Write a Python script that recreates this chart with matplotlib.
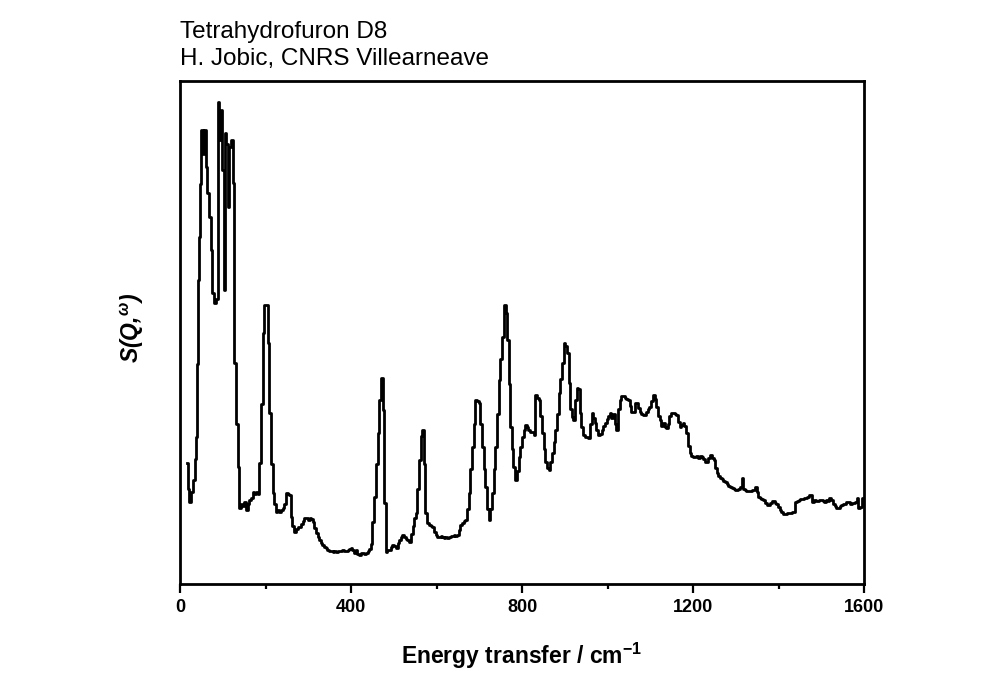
import numpy as np
import matplotlib
matplotlib.use("Agg")
import matplotlib.pyplot as plt
from matplotlib.ticker import MultipleLocator

# energy transfer (cm-1) and S(Q,w) (arbitrary units)
energy = [16, 20, 24, 28, 32, 36, 39, 41, 43, 46, 49, 51, 55, 59, 62, 66, 70, 74, 78, 82,
          86, 90, 94, 97, 101, 104, 107, 110, 113, 117, 121, 125, 129, 133, 137, 140, 144, 148, 152, 156,
          160, 164, 168, 172, 176, 180, 184, 187, 191, 195, 199, 203, 207, 211, 215, 219, 223, 226, 230, 234,
          238, 242, 246, 250, 254, 257, 261, 265, 269, 273, 277, 281, 285, 289, 293, 297, 301, 305, 309, 312,
          316, 320, 324, 328, 331, 335, 339, 343, 347, 351, 355, 359, 363, 367, 371, 374, 378, 382, 386, 390,
          394, 398, 402, 405, 409, 413, 417, 421, 425, 429, 433, 437, 441, 445, 448, 452, 456, 460, 464, 468,
          472, 476, 479, 483, 487, 491, 495, 499, 503, 507, 511, 514, 518, 522, 526, 530, 534, 538, 542, 546,
          550, 553, 557, 561, 565, 568, 572, 576, 580, 584, 588, 592, 596, 600, 604, 608, 611, 615, 619, 623,
          627, 631, 635, 638, 642, 646, 650, 654, 658, 662, 666, 669, 673, 677, 681, 685, 689, 693, 697, 701,
          704, 708, 712, 716, 720, 724, 728, 732, 736, 740, 744, 747, 751, 755, 759, 764, 767, 770, 774, 778,
          782, 787, 791, 794, 798, 802, 806, 810, 813, 817, 821, 825, 829, 833, 837, 841, 845, 849, 853, 856,
          860, 864, 868, 872, 876, 880, 884, 887, 891, 895, 900, 903, 907, 911, 915, 918, 922, 926, 930, 933,
          937, 941, 945, 949, 953, 957, 961, 965, 968, 972, 976, 980, 984, 988, 992, 996, 1000, 1004, 1007, 1011,
          1015, 1019, 1023, 1027, 1030, 1034, 1038, 1042, 1046, 1050, 1054, 1058, 1062, 1066, 1069, 1073, 1077, 1081, 1085, 1089,
          1093, 1096, 1100, 1104, 1108, 1112, 1116, 1120, 1124, 1128, 1132, 1136, 1139, 1143, 1147, 1151, 1155, 1159, 1163, 1167,
          1171, 1175, 1178, 1182, 1186, 1190, 1194, 1198, 1202, 1206, 1210, 1214, 1218, 1222, 1226, 1230, 1234, 1238, 1242, 1246,
          1250, 1253, 1257, 1261, 1265, 1269, 1273, 1277, 1281, 1285, 1289, 1293, 1297, 1300, 1304, 1308, 1312, 1315, 1319, 1323,
          1327, 1331, 1335, 1339, 1343, 1347, 1351, 1354, 1358, 1362, 1366, 1370, 1374, 1378, 1382, 1386, 1390, 1393, 1397, 1401,
          1405, 1409, 1413, 1417, 1421, 1425, 1429, 1433, 1437, 1441, 1445, 1449, 1453, 1457, 1461, 1465, 1469, 1473, 1477, 1481,
          1485, 1489, 1493, 1497, 1501, 1505, 1509, 1513, 1517, 1521, 1525, 1529, 1533, 1537, 1541, 1545, 1549, 1553, 1557, 1561,
          1565, 1569, 1573, 1577, 1581, 1585, 1589, 1593, 1597]
intensity = [121, 95, 82, 92, 104, 125, 147, 220, 304, 347, 400, 454, 430, 454, 417, 391, 367, 334, 291, 281,
             285, 482, 444, 474, 414, 294, 451, 440, 377, 437, 444, 401, 221, 160, 117, 76, 80, 78, 82, 74,
             80, 84, 86, 92, 90, 92, 90, 121, 180, 251, 279, 279, 241, 171, 120, 91, 80, 72, 74, 72,
             74, 76, 80, 91, 90, 89, 67, 58, 52, 55, 57, 57, 60, 63, 66, 66, 64, 66, 65, 62,
             56, 51, 47, 44, 41, 39, 37, 36, 34, 33, 33, 32, 33, 32, 33, 33, 33, 34, 33, 33,
             34, 35, 36, 34, 31, 34, 30, 29, 31, 31, 30, 31, 33, 35, 40, 62, 87, 120, 151, 184,
             206, 174, 81, 32, 34, 34, 37, 39, 38, 36, 41, 44, 47, 49, 47, 45, 44, 42, 50, 58,
             66, 71, 95, 124, 148, 154, 120, 71, 61, 59, 58, 57, 52, 49, 47, 47, 48, 47, 46, 47,
             46, 47, 48, 48, 49, 48, 49, 54, 59, 61, 63, 64, 75, 91, 115, 137, 160, 184, 183, 181,
             160, 137, 115, 97, 75, 64, 75, 91, 115, 137, 170, 204, 225, 247, 279, 271, 244, 200, 157, 135,
             117, 104, 113, 127, 137, 147, 154, 159, 157, 154, 152, 152, 149, 189, 186, 184, 168, 151, 135, 122,
             116, 114, 122, 131, 142, 154, 170, 191, 205, 221, 241, 238, 231, 201, 175, 167, 164, 184, 196, 195,
             171, 157, 149, 147, 147, 146, 160, 171, 166, 161, 154, 149, 150, 154, 158, 161, 165, 168, 171, 166,
             170, 160, 154, 175, 184, 188, 188, 186, 185, 184, 178, 172, 172, 181, 181, 176, 172, 170, 169, 169,
             172, 175, 177, 183, 189, 185, 177, 168, 164, 158, 161, 157, 156, 160, 168, 171, 171, 170, 169, 162,
             157, 159, 161, 158, 151, 138, 131, 128, 127, 127, 128, 126, 128, 127, 125, 122, 122, 126, 129, 126,
             124, 116, 111, 108, 106, 105, 103, 102, 100, 98, 97, 96, 95, 94, 94, 95, 97, 106, 95, 94,
             93, 93, 93, 94, 94, 97, 92, 87, 86, 85, 84, 81, 79, 79, 81, 83, 83, 81, 80, 77,
             74, 72, 70, 70, 71, 71, 71, 72, 72, 82, 83, 84, 85, 85, 86, 86, 87, 89, 89, 82,
             84, 83, 83, 84, 84, 83, 82, 84, 83, 86, 84, 80, 78, 76, 76, 78, 79, 80, 80, 82,
             82, 80, 81, 81, 82, 86, 76, 77, 86]

xticks = [0, 400, 800, 1200, 1600]

plt.rcParams['mathtext.fontset'] = 'custom'
plt.rcParams['mathtext.rm'] = 'Liberation Sans:bold'
plt.rcParams['mathtext.it'] = 'Liberation Sans:italic:bold'
plt.rcParams['mathtext.bf'] = 'Liberation Sans:bold'

fig = plt.figure(figsize=(10.03, 7.0), dpi=100)
ax = fig.add_axes([180 / 1003, 1 - 584 / 700, 684 / 1003, 503 / 700])

ax.step(energy, intensity, where='mid', color='black', lw=2)

ax.set_xlim(0, 1600)
ax.set_ylim(0, 503)
ax.set_xticks(xticks)
ax.xaxis.set_minor_locator(MultipleLocator(200))
ax.set_yticks([])
for s in ax.spines.values():
    s.set_linewidth(2)
ax.tick_params(axis='x', which='major', direction='out', length=6.5, width=1.6, pad=4)
ax.tick_params(axis='x', which='minor', direction='out', length=3.5, width=1.6)
for lab in ax.get_xticklabels():
    lab.set_family('Liberation Sans')
    lab.set_fontweight('bold')
    lab.set_fontsize(13)

ax.set_xlabel('Energy transfer / cm$^{-1}$', fontsize=16.5, fontweight='bold', family='Liberation Sans')
ax.xaxis.set_label_coords(0.5, -0.112)
ax.set_ylabel('S(Q,$^{\\omega}$)', fontsize=16.5, fontweight='bold', style='italic', family='Liberation Sans')
ax.yaxis.set_label_coords(-0.05, 0.51)

fig.text(180 / 1003, 1 - 38 / 700, 'Tetrahydrofuron D8', fontsize=17.5, family='Liberation Sans', va='baseline')
fig.text(180 / 1003, 1 - 65 / 700, 'H. Jobic, CNRS Villearneave', fontsize=17.5, family='Liberation Sans', va='baseline')

fig.savefig('out.png', dpi=100)
